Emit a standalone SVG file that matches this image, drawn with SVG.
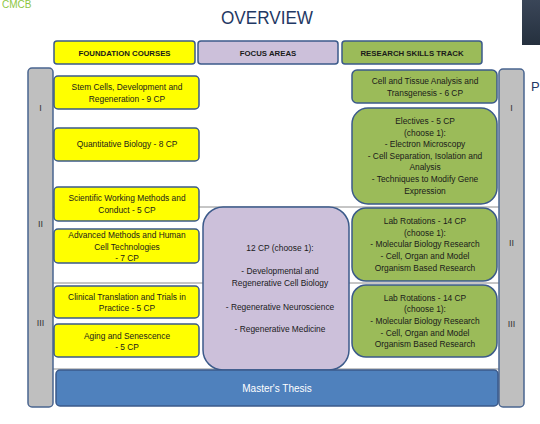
<svg xmlns="http://www.w3.org/2000/svg" width="540" height="424" viewBox="0 0 540 424">
<defs>
<style>
text{font-family:"Liberation Sans",Arial,sans-serif;fill:#1a1a1a;text-anchor:middle}
.t{font-size:8.4px}
.h{font-size:7.8px;font-weight:bold}
.rn{font-size:9px;fill:#333333}
.y{fill:#ffff00;stroke:#3b5a8a;stroke-width:1.5}
.g{fill:#9bbb59;stroke:#3b5a8a;stroke-width:1.5}
.p{fill:#ccc0da;stroke:#3b5a8a;stroke-width:1.5}
.bar{fill:#bfbfbf;stroke:#4a6590;stroke-width:1.5}
.sep{stroke:#8c8c8c;stroke-width:1}
</style>
<linearGradient id="dk" x1="0" y1="0" x2="0" y2="1">
<stop offset="0" stop-color="#3a4658"/><stop offset="1" stop-color="#25303e"/>
</linearGradient>
</defs>
<rect width="540" height="424" fill="#ffffff"/>
<text x="2" y="8" style="font-size:10px;fill:#8dc63f;text-anchor:start">CMCB</text>
<rect x="522" y="0" width="18" height="45" fill="url(#dk)"/>
<text x="531" y="91" style="font-size:13px;fill:#1f3864;text-anchor:start">P</text>
<text x="267" y="24" style="font-size:19px;fill:#1f3864" textLength="92" lengthAdjust="spacingAndGlyphs">OVERVIEW</text>

<g id="connectors">
<line class="sep" x1="53" y1="207" x2="499" y2="207"/>
<line class="sep" x1="53" y1="283" x2="499" y2="283"/>
<line class="sep" x1="53" y1="369" x2="499" y2="369"/>
</g>

<g id="hdr-foundation"><rect class="y" x="54" y="41" width="141" height="23" rx="3"/><text class="h" x="124.5" y="55.5">FOUNDATION COURSES</text></g>
<g id="hdr-focus"><rect class="p" x="198" y="41" width="140" height="23" rx="3"/><text class="h" x="268" y="55.5">FOCUS AREAS</text></g>
<g id="hdr-research"><rect class="g" x="342" y="41" width="140" height="23" rx="3"/><text class="h" x="412" y="55.5">RESEARCH SKILLS TRACK</text></g>

<g id="sem-left"><rect class="bar" x="28" y="68" width="25" height="339" rx="4"/>
<text class="rn" x="40.5" y="111">I</text><text class="rn" x="40.5" y="227">II</text><text class="rn" x="40.5" y="326">III</text></g>
<g id="sem-right"><rect class="bar" x="499" y="69" width="25" height="338" rx="4"/>
<text class="rn" x="511.5" y="111">I</text><text class="rn" x="511.5" y="246">II</text><text class="rn" x="511.5" y="327">III</text></g>

<g id="stem"><rect class="y" x="54" y="76" width="145" height="33" rx="4"/><text class="t" x="127" y="90">Stem Cells, Development and</text><text class="t" x="127" y="102">Regeneration - 9 CP</text></g>
<g id="quant"><rect class="y" x="54" y="128" width="145" height="33" rx="4"/><text class="t" x="127" y="146.5">Quantitative Biology - 8 CP</text></g>
<g id="sci"><rect class="y" x="54" y="187" width="145" height="34" rx="4"/><text class="t" x="127" y="201">Scientific Working Methods and</text><text class="t" x="127" y="213">Conduct - 5 CP</text></g>
<g id="adv"><rect class="y" x="54" y="229" width="145" height="34" rx="4"/><text class="t" x="127" y="238">Advanced Methods and Human</text><text class="t" x="127" y="250">Cell Technologies</text><text class="t" x="127" y="261">- 7 CP</text></g>
<g id="clin"><rect class="y" x="54" y="286" width="145" height="32" rx="4"/><text class="t" x="127" y="300">Clinical Translation and Trials in</text><text class="t" x="127" y="311">Practice - 5 CP</text></g>
<g id="aging"><rect class="y" x="54" y="324" width="145" height="33" rx="4"/><text class="t" x="127" y="339">Aging and Senescence</text><text class="t" x="127" y="350">- 5 CP</text></g>

<g id="focus"><rect class="p" x="203" y="207" width="146" height="163" rx="20"/>
<text class="t" x="280" y="251">12 CP (choose 1):</text>
<text class="t" x="280" y="274">- Developmental and</text>
<text class="t" x="280" y="286">Regenerative Cell Biology</text>
<text class="t" x="280" y="310">- Regenerative Neuroscience</text>
<text class="t" x="280" y="332">- Regenerative Medicine</text></g>

<g id="cell"><rect class="g" x="352" y="70" width="145" height="33" rx="5"/><text class="t" x="425" y="84">Cell and Tissue Analysis and</text><text class="t" x="425" y="96">Transgenesis - 6 CP</text></g>
<g id="elect"><rect class="g" x="352" y="108" width="145" height="96" rx="16"/>
<text class="t" x="425" y="124">Electives  - 5 CP</text>
<text class="t" x="425" y="135.7">(choose 1):</text>
<text class="t" x="425" y="147.3">- Electron Microscopy</text>
<text class="t" x="425" y="159">- Cell Separation, Isolation and</text>
<text class="t" x="425" y="170.3">Analysis</text>
<text class="t" x="425" y="182">- Techniques to Modify Gene</text>
<text class="t" x="425" y="193.7">Expression</text></g>
<g id="lab1"><rect class="g" x="352" y="208" width="145" height="73" rx="14"/>
<text class="t" x="425" y="224">Lab Rotations - 14 CP</text>
<text class="t" x="425" y="236">(choose 1):</text>
<text class="t" x="425" y="247">- Molecular Biology Research</text>
<text class="t" x="425" y="259">- Cell, Organ and Model</text>
<text class="t" x="425" y="271">Organism Based Research</text></g>
<g id="lab2"><rect class="g" x="352" y="285" width="145" height="72" rx="14"/>
<text class="t" x="425" y="301">Lab Rotations - 14 CP</text>
<text class="t" x="425" y="312">(choose 1):</text>
<text class="t" x="425" y="324">- Molecular Biology Research</text>
<text class="t" x="425" y="336">- Cell, Organ and Model</text>
<text class="t" x="425" y="347">Organism Based Research</text></g>

<g id="thesis"><rect x="56" y="370" width="442" height="36" rx="4" fill="#4f81bd" stroke="#3b5a8a" stroke-width="1.5"/><text x="277" y="391.5" style="font-size:10px;fill:#ffffff">Master's Thesis</text></g>
</svg>
